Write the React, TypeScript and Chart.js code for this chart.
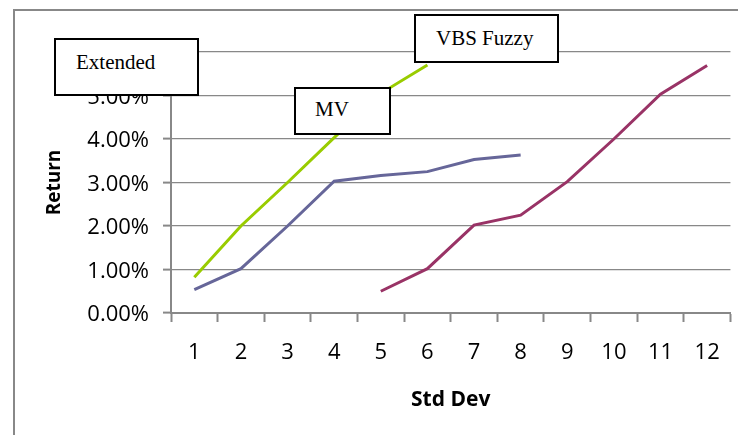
import React, { useEffect, useRef } from "react";
import { Chart, registerables } from "chart.js";

Chart.register(...registerables);

const categories = ["1", "2", "3", "4", "5", "6", "7", "8", "9", "10", "11", "12"];
const vbsFuzzy = [0.82, 2.0, 3.0, 4.03, 5.05, 5.7, null, null, null, null, null, null];
const mv = [0.54, 1.02, 2.0, 3.03, 3.16, 3.25, 3.53, 3.63, null, null, null, null];
const extended = [null, null, null, null, 0.5, 1.02, 2.02, 2.25, 3.02, 4.0, 5.03, 5.69];
const yTicks = [0, 1, 2, 3, 4, 5, 6];

const GRID = "#888888";
const SANS = "'Open Sans'";

const boxStyle = (left: number, top: number, width: number, height: number): React.CSSProperties => ({
  position: "absolute",
  left,
  top,
  width,
  height,
  boxSizing: "border-box",
  border: "2px solid #000",
  background: "#fff",
});

const textStyle = (left: number, top: number): React.CSSProperties => ({
  position: "absolute",
  left,
  top,
  fontFamily: "'Liberation Serif', serif",
  fontSize: 21,
  lineHeight: 1,
  color: "#000",
  whiteSpace: "nowrap",
});

export default function App() {
  const ref = useRef<HTMLCanvasElement | null>(null);

  useEffect(() => {
    if (!ref.current) return;
    const chart = new Chart(ref.current, {
      type: "line",
      data: {
        labels: categories,
        datasets: [
          { label: "VBS Fuzzy", data: vbsFuzzy, borderColor: "#99CC00", borderWidth: 3, pointRadius: 0, spanGaps: false, tension: 0 },
          { label: "MV", data: mv, borderColor: "#666699", borderWidth: 3, pointRadius: 0, spanGaps: false, tension: 0 },
          { label: "Extended", data: extended, borderColor: "#993366", borderWidth: 3, pointRadius: 0, spanGaps: false, tension: 0 },
        ],
      },
      options: {
        responsive: false,
        animation: false,
        devicePixelRatio: 1,
        layout: { padding: { left: 0, top: 52, right: 7, bottom: 0 } },
        plugins: { legend: { display: false }, tooltip: { enabled: false } },
        scales: {
          x: {
            type: "category",
            offset: true,
            grid: { offset: true, drawOnChartArea: false, drawTicks: true, tickLength: 9, tickColor: GRID, tickWidth: 2, color: GRID },
            border: { display: true, color: GRID, width: 2 },
            ticks: { color: "#000", font: { family: SANS, size: 22 }, padding: 18, maxRotation: 0, autoSkip: false },
            title: { display: true, text: "Std Dev", color: "#000", font: { family: SANS, size: 21, weight: "bold" }, padding: { top: 0, bottom: 22 } },
            afterFit: (s: any) => { s.height = 122; },
          },
          y: {
            min: 0,
            max: 6,
            afterBuildTicks: (s: any) => { s.ticks = yTicks.map((v) => ({ value: v })); },
            grid: { color: GRID, lineWidth: 1.2, tickLength: 8, tickColor: GRID, tickWidth: 2 },
            border: { display: true, color: GRID, width: 2 },
            ticks: { color: "#000", font: { family: SANS, size: 22 }, padding: 14, labelOffset: 2, callback: (v: any) => Number(v).toFixed(2) + "%" },
            title: { display: true, text: "Return", color: "#000", font: { family: SANS, size: 19, weight: "bold" }, padding: { top: 43, bottom: 0 } },
            afterFit: (s: any) => { s.width = 171; },
          },
        },
      },
    });
    return () => chart.destroy();
  }, []);

  return (
    <div style={{ position: "fixed", left: 0, top: 0, width: 738, height: 435, background: "#fff", overflow: "hidden" }}>
      <div style={{ position: "absolute", left: 13, top: 9, width: 800, height: 500, borderLeft: `2px solid ${GRID}`, borderTop: `2px solid ${GRID}` }} />
      <canvas ref={ref} width={738} height={435} style={{ position: "absolute", left: 0, top: 0, width: 738, height: 435 }} />
      <div style={boxStyle(54, 38, 145, 58)} />
      <span style={textStyle(76, 52.4)}>Extended</span>
      <div style={boxStyle(294, 87, 97, 48)} />
      <span style={textStyle(315, 99)}>MV</span>
      <div style={boxStyle(414, 14, 145, 49)} />
      <span style={textStyle(436, 28)}>VBS Fuzzy</span>
    </div>
  );
}
